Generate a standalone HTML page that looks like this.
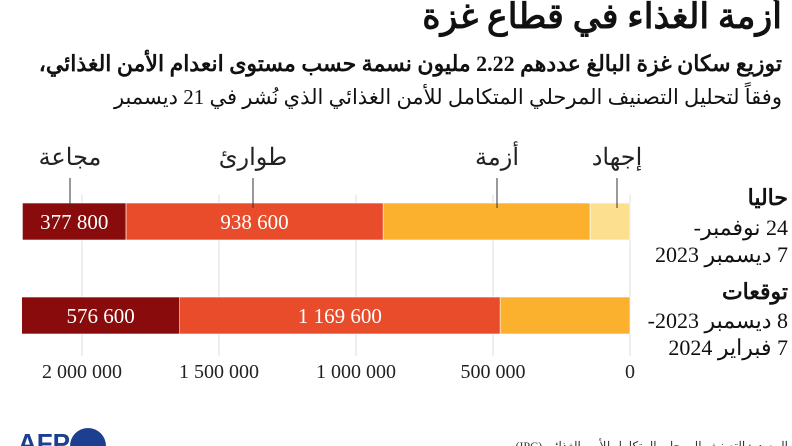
<!DOCTYPE html>
<html><head><meta charset="utf-8">
<style>
html,body{margin:0;padding:0;background:#fff;width:792px;height:446px;overflow:hidden;}
svg{display:block;}
.ar{font-family:"Liberation Serif","Noto Serif CJK SC","DejaVu Serif",serif;}
</style></head>
<body>
<svg id="chart" width="792" height="446" viewBox="0 0 792 446">
<text class="ar" x="782" y="28" text-anchor="start" direction="rtl" font-size="35" font-weight="bold" fill="#111">أزمة الغذاء في قطاع غزة</text>
<text class="ar" x="782" y="71" text-anchor="start" direction="rtl" font-size="22" font-weight="bold" fill="#111">توزيع سكان غزة البالغ عددهم 2.22 مليون نسمة حسب مستوى انعدام الأمن الغذائي،</text>
<text class="ar" x="782" y="104" text-anchor="start" direction="rtl" font-size="21" fill="#111">وفقاً لتحليل التصنيف المرحلي المتكامل للأمن الغذائي الذي نُشر في 21 ديسمبر</text>
<g id="grid"></g>
<g id="bars"></g>
<g id="ticks"></g>
<g id="legend"></g>
<g>
<text class="ar" x="788" y="205" text-anchor="start" direction="rtl" font-size="22" font-weight="bold" fill="#111">حاليا</text>
<text class="ar" x="788" y="235" text-anchor="start" direction="rtl" font-size="22" fill="#111">24 نوفمبر-</text>
<text class="ar" x="788" y="262" text-anchor="start" direction="rtl" font-size="22" fill="#111">7 ديسمبر 2023</text>
</g>
<g>
<text class="ar" x="788" y="299" text-anchor="start" direction="rtl" font-size="22" font-weight="bold" fill="#111">توقعات</text>
<text class="ar" x="788" y="328" text-anchor="start" direction="rtl" font-size="22" fill="#111">8 ديسمبر 2023-</text>
<text class="ar" x="788" y="355" text-anchor="start" direction="rtl" font-size="22" fill="#111">7 فبراير 2024</text>
</g>
<g>
<text x="18" y="452" font-family="Liberation Sans,sans-serif" font-weight="bold" font-size="26" fill="#1d3f8f">AFP</text>
<circle cx="88" cy="446" r="18" fill="#1d3f8f"/>
</g>
<text class="ar" x="788" y="450" text-anchor="start" direction="rtl" font-size="12" fill="#333">المصدر: التصنيف المرحلي المتكامل للأمن الغذائي (IPC)</text>
</svg>
<script>
const categories = ["مجاعة","طوارئ","أزمة","إجهاد"];
const rows = ["current","forecast"];
const famine = [377800, 576600];
const emergency = [938600, 1169600];
const crisis = [755000, 474000];
const stress = [146000, 0];
const tickValues = [0, 500000, 1000000, 1500000, 2000000];
const tickLabels = ["0","500 000","1 000 000","1 500 000","2 000 000"];

const NS = "http://www.w3.org/2000/svg";
const x0 = 630, pxPer = 137/500000;
function xs(v){ return x0 - v*pxPer; }
const rowY = [203, 297], barH = 37;
const colors = ["#8a0b0b","#e84c2b","#fbb12d","#fde08f"];
const legendX = [70, 253, 497, 617];
function mk(tag, attrs, parent){ const e=document.createElementNS(NS,tag); for(const k in attrs) e.setAttribute(k,attrs[k]); parent.appendChild(e); return e; }

const grid = document.getElementById('grid');
tickValues.forEach((v,i)=>{
  const l = mk('line',{x1:xs(v),x2:xs(v),y1:195,y2:356,stroke:'#ddd','stroke-width':1},grid);
  
  
  const t = mk('text',{x:xs(v),y:378,'text-anchor':'middle','font-size':20,fill:'#222','class':'ar'},document.getElementById('ticks'));
  t.textContent = tickLabels[i];
  
  
});

const bars = document.getElementById('bars');
const series = [famine, emergency, crisis, stress];
const segNames = ['famine','emergency','crisis','stress'];
rows.forEach((r,ri)=>{
  let cum = 0;
  [3,2,1,0].forEach(si=>{
    const v = series[si][ri];
    if(v<=0) return;
    const xr = xs(cum), xl = xs(cum+v);
    const rect = mk('rect',{x:xl,y:rowY[ri],width:xr-xl,height:barH,fill:colors[si],stroke:'#fff','stroke-width':0.6},bars);
    
    
    if(si<2){
      const t = mk('text',{x:(xl+xr)/2,y:rowY[ri]+26,'text-anchor':'middle','font-size':21,fill:'#fff','class':'ar'},bars);
      t.textContent = String(v).replace(/\B(?=(\d{3})+(?!\d))/g,' ');
      
      
    }
    cum += v;
  });
});

const legend = document.getElementById('legend');
categories.forEach((c,i)=>{
  const ln = mk('line',{x1:legendX[i],x2:legendX[i],y1:178,y2:208,stroke:'#333','stroke-width':1},legend);
  
  
  const t = mk('text',{x:legendX[i],y:165,'text-anchor':'middle','font-size':24,fill:'#222','class':'ar'},legend);
  t.textContent = c;
  
  
});
</script>
</body></html>
